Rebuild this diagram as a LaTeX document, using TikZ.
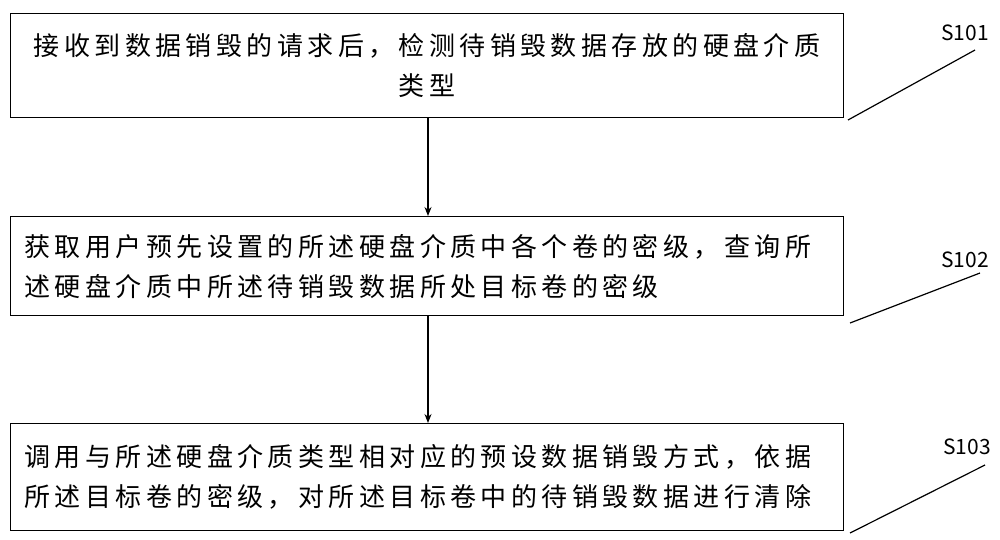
\documentclass[tikz,border=0pt]{standalone}
\usepackage{fontspec}
\usetikzlibrary{arrows.meta}
\newfontfamily\cjk[LetterSpace=17]{Noto Sans CJK SC}
\newfontfamily\cjklab{Noto Sans CJK SC}
\begin{document}
\begin{tikzpicture}[x=1pt,y=-1pt,
  box/.style={draw,line width=1.2pt,minimum width=833pt,anchor=north west,inner sep=0pt},
  txt/.style={font=\cjk\fontsize{26}{40}\selectfont,text width=805pt},
  arr/.style={-{Stealth[length=9pt,width=7pt]},line width=1.2pt},
  lab/.style={font=\cjklab\fontsize{21}{24}\selectfont}]
\useasboundingbox (0,0) rectangle (1000,539);
\node[box,minimum height=104pt] (b1) at (10,13) {};
\node[txt,align=center] at (b1.center) {接收到数据销毁的请求后，检测待销毁数据存放的硬盘介质\\类型};
\node[box,minimum height=99pt] (b2) at (10,216) {};
\node[txt,align=left] at (b2.center) {获取用户预先设置的所述硬盘介质中各个卷的密级，查询所\\述硬盘介质中所述待销毁数据所处目标卷的密级};
\node[box,minimum height=107pt] (b3) at (10,423) {};
\node[txt,align=left] at (b3.center) {调用与所述硬盘介质类型相对应的预设数据销毁方式，依据\\所述目标卷的密级，对所述目标卷中的待销毁数据进行清除};
\draw[arr] (b1.south -| 428,0) -- (b2.north -| 428,0);
\draw[arr] (b2.south -| 428,0) -- (b3.north -| 428,0);
\node[lab] (s1) at (965,33) {S101};
\node[lab] (s2) at (965,260) {S102};
\node[lab] (s3) at (967,447) {S103};
\coordinate (e1) at (848,120);
\coordinate (e2) at (850,323);
\coordinate (e3) at (850,533);
\draw[line width=1.2pt] (e1) -- (975,50);
\draw[line width=1.2pt] (e2) -- (980,273);
\draw[line width=1.2pt] (e3) -- (985,465);
\end{tikzpicture}
\end{document}
